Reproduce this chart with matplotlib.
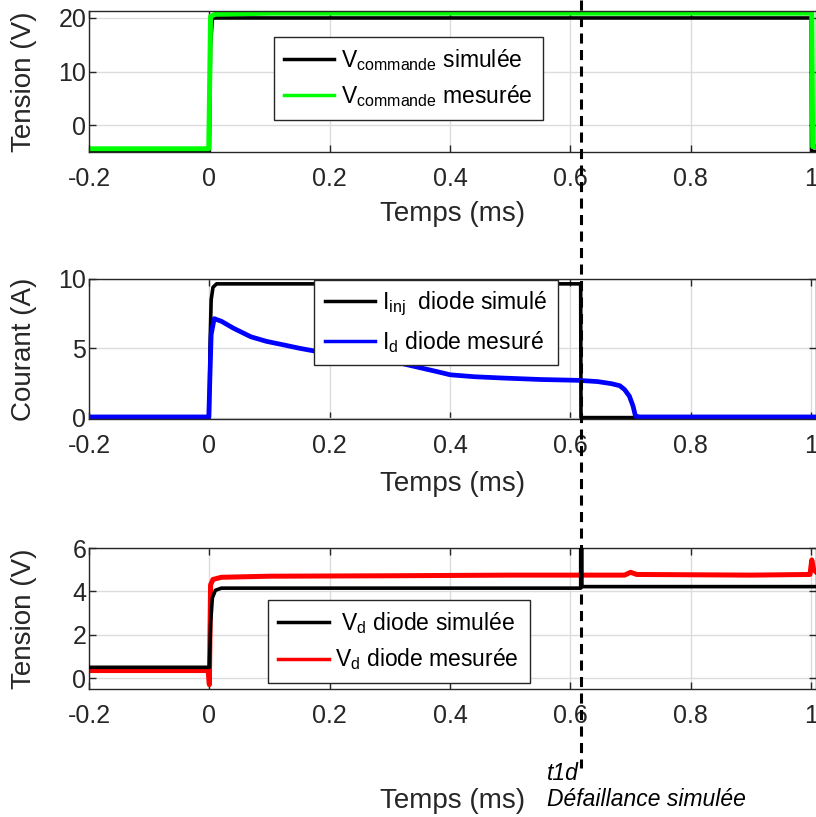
import matplotlib
matplotlib.use("Agg")
import matplotlib.pyplot as plt
from matplotlib.lines import Line2D
from matplotlib.transforms import blended_transform_factory

plt.rcParams['font.family'] = ['Liberation Sans', 'DejaVu Sans']
plt.rcParams['mathtext.fontset'] = 'custom'
plt.rcParams['mathtext.rm'] = 'Liberation Sans'
plt.rcParams['mathtext.it'] = 'Liberation Sans:italic'

# time axis (ms)
xticks = [-0.2, 0, 0.2, 0.4, 0.6, 0.8, 1.0]
xticklabels = ['-0.2', '0', '0.2', '0.4', '0.6', '0.8', '1']
t1d = 0.617

# panel 1 : commande
t_cmd_sim = [-0.2, 0.0, 0.002, 0.005, 0.008, 1.0, 1.0005, 1.008]
v_cmd_sim = [-4.9, -4.9, 15.0, 19.8, 20.0, 20.0, -4.9, -4.9]
t_cmd_mes = [-0.2, -0.001, 0.002, 0.01, 0.1, 1.001, 1.0025, 1.008]
v_cmd_mes = [-4.4, -4.4, 20.3, 20.7, 20.9, 20.9, -4.0, -4.0]

# panel 2 : courant
t_i_sim = [-0.2, 0.0, 0.001, 0.003, 0.006, 0.012, t1d, t1d + 0.0005, 1.008]
i_sim = [0.0, 0.0, 5.0, 8.5, 9.4, 9.65, 9.65, 0.0, 0.0]
t_i_mes = [-0.2, -0.001, 0.003, 0.008, 0.02, 0.04, 0.069, 0.095, 0.124, 0.15,
           0.174, 0.23, 0.285, 0.31, 0.346, 0.38, 0.40, 0.44, 0.485, 0.55,
           0.612, 0.645, 0.668, 0.682, 0.69, 0.698, 0.704, 0.708, 0.715, 1.008]
i_mes = [0.05, 0.05, 6.0, 7.14, 6.95, 6.45, 5.83, 5.5, 5.24, 5.0,
         4.81, 4.45, 4.05, 4.0, 3.64, 3.3, 3.09, 2.95, 2.86, 2.75,
         2.69, 2.6, 2.45, 2.3, 2.02, 1.54, 0.83, 0.11, 0.05, 0.05]

# panel 3 : tension diode
t_vd_sim = [-0.2, 0.0, 0.002, 0.005, 0.01, 0.02, t1d, t1d, t1d + 0.002, t1d + 0.002, 1.008]
vd_sim = [0.5, 0.5, 2.5, 3.7, 4.05, 4.15, 4.15, 6.2, 6.2, 4.22, 4.22]
t_vd_mes = [-0.2, -0.002, 0.0, 0.002, 0.006, 0.02, 0.1, 0.3, 0.5, 0.69, 0.7,
            0.71, 0.9, 0.998, 1.001, 1.004, 1.008]
vd_mes = [0.35, 0.35, -0.3, 4.3, 4.55, 4.65, 4.7, 4.72, 4.75, 4.75, 4.88,
          4.78, 4.75, 4.78, 5.45, 5.0, 4.9]

dark = '#262626'
fig = plt.figure(figsize=(8.16, 8.17), dpi=100)
left, width = 89 / 816, 727 / 816
ax1 = fig.add_axes([left, 1 - 152 / 817, width, 141 / 817])
ax2 = fig.add_axes([left, 1 - 419 / 817, width, 140 / 817])
ax3 = fig.add_axes([left, 1 - 689 / 817, width, 141 / 817])


def style(ax, ylim, yticks, ylabel, xlab_y):
    ax.set_xlim(-0.2, 1.008)
    ax.set_ylim(*ylim)
    ax.set_xticks(xticks)
    ax.set_xticklabels(xticklabels)
    ax.set_yticks(yticks)
    ax.grid(True, color='#dcdcdc', lw=1)
    ax.set_axisbelow(True)
    ax.tick_params(direction='in', top=True, right=True, length=5,
                   width=1, colors=dark, labelsize=18)
    ax.tick_params(axis='x', pad=11)
    ax.tick_params(axis='y', pad=2)
    for s in ax.spines.values():
        s.set_color(dark)
        s.set_linewidth(1)
    ax.set_ylabel(ylabel, fontsize=20, color=dark)
    ax.yaxis.set_label_coords(-0.072, 0.5)
    ax.set_xlabel('Temps (ms)', fontsize=20, color=dark)
    ax.xaxis.set_label_coords(0.5, xlab_y)


def leg(ax, handles, labels, x, y):
    lg = ax.legend(handles, labels, loc='upper left', bbox_to_anchor=(x, y),
                   borderaxespad=0, fontsize=16.5, fancybox=False, framealpha=1,
                   handlelength=2.2, handletextpad=0.3, borderpad=0.45,
                   labelspacing=0.45)
    lg.get_frame().set_edgecolor(dark)
    lg.get_frame().set_linewidth(1)
    for hh in lg.get_lines():
        hh.set_linewidth(2.5)


ax1.plot(t_cmd_mes, v_cmd_mes, color='#00ff00', lw=3.6, zorder=2,
         label=r'$\mathrm{V}_{\mathrm{commande}}$ mesurée')
ax1.plot(t_cmd_sim, v_cmd_sim, color='black', lw=2.6, zorder=1,
         label=r'$\mathrm{V}_{\mathrm{commande}}$ simulée')
style(ax1, (-5, 21.3), [0, 10, 20], 'Tension (V)', -0.35)
h, l = ax1.get_legend_handles_labels()
leg(ax1, h[::-1], l[::-1], 0.254, 0.816)

ax2.plot(t_i_sim, i_sim, color='black', lw=2.6,
         label=r'$\mathrm{I}_{\mathrm{inj}}$  diode simulé')
ax2.plot(t_i_mes, i_mes, color='#0000ff', lw=3.4,
         label=r'$\mathrm{I}_{\mathrm{d}}$ diode mesuré')
style(ax2, (-0.1, 10), [0, 5, 10], 'Courant (A)', -0.37)
h, l = ax2.get_legend_handles_labels()
leg(ax2, h, l, 0.31, 0.995)

ax3.plot(t_vd_mes, vd_mes, color='#ff0000', lw=3.6, zorder=2,
         label=r'$\mathrm{V}_{\mathrm{d}}$ diode mesurée')
ax3.plot(t_vd_sim, vd_sim, color='black', lw=2.6, zorder=3,
         label=r' $\mathrm{V}_{\mathrm{d}}$ diode simulée')
style(ax3, (-0.5, 6), [0, 2, 4, 6], 'Tension (V)', -0.70)
h, l = ax3.get_legend_handles_labels()
leg(ax3, h[::-1], l[::-1], 0.246, 0.631)

# t1d marker across the whole figure
tr = blended_transform_factory(ax1.transData, fig.transFigure)
fig.add_artist(Line2D([t1d, t1d], [1.0, 1 - 768 / 817], transform=tr,
                      color='black', lw=2.2, linestyle=(0, (3.3, 2.1)),
                      zorder=10))
fig.text(547 / 816, 1 - 773 / 817, 't1d', fontsize=16.5, style='italic',
         va='center', ha='left')
fig.text(547 / 816, 1 - 800 / 817, 'Défaillance simulée', fontsize=16.5,
         style='italic', va='center', ha='left')

fig.savefig('out.png', dpi=100)
